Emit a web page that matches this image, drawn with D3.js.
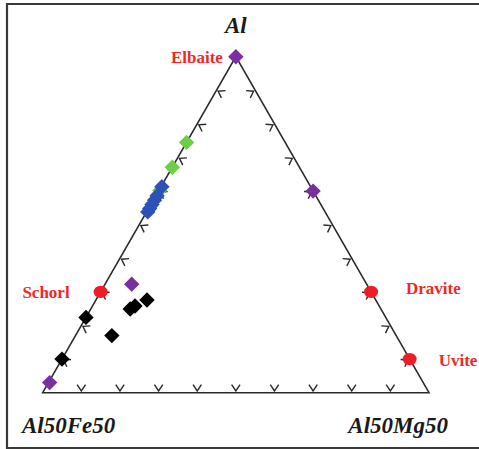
<!DOCTYPE html>
<html>
<head>
<meta charset="utf-8">
<script src="https://cdn.jsdelivr.net/npm/d3@7"></script>
<style>
  html, body { margin: 0; padding: 0; background: #fff; }
  svg { display: block; }
</style>
</head>
<body>
<svg id="chart" width="479" height="449"></svg>
<script>
// ternary data: Al (top), Fe = Al50Fe50 (bottom left), Mg = Al50Mg50 (bottom right)
const vertexLabels = ['Al', 'Al50Fe50', 'Al50Mg50'];
const tickFractions = [0.1, 0.2, 0.3, 0.4, 0.5, 0.6, 0.7, 0.8, 0.9];

// end members (red circles + labels)
const endMembers = [
  { name: 'Schorl', al: 0.30, fe: 0.70, mg: 0.00 },
  { name: 'Dravite', al: 0.30, fe: 0.00, mg: 0.70 },
  { name: 'Uvite', al: 0.10, fe: 0.00, mg: 0.90 }
];
const elbaiteLabel = { name: 'Elbaite', al: 1.0, fe: 0.0, mg: 0.0 };

const purplePoints = [
  { al: 1.000, fe: 0.000, mg: 0.000 },
  { al: 0.600, fe: 0.000, mg: 0.400 },
  { al: 0.323, fe: 0.608, mg: 0.069 },
  { al: 0.030, fe: 0.967, mg: 0.003 }
];
const greenPoints = [
  { al: 0.745, fe: 0.255, mg: 0.000 },
  { al: 0.671, fe: 0.329, mg: 0.000 },
  { al: 0.602, fe: 0.396, mg: 0.002 }
];
const bluePoints = [
  { al: 0.613, fe: 0.385, mg: 0.002 },
  { al: 0.586, fe: 0.411, mg: 0.003 },
  { al: 0.573, fe: 0.424, mg: 0.003 },
  { al: 0.560, fe: 0.437, mg: 0.003 },
  { al: 0.548, fe: 0.449, mg: 0.003 },
  { al: 0.538, fe: 0.459, mg: 0.003 }
];
const blackPoints = [
  { al: 0.224, fe: 0.776, mg: 0.000 },
  { al: 0.100, fe: 0.900, mg: 0.000 },
  { al: 0.170, fe: 0.736, mg: 0.094 },
  { al: 0.249, fe: 0.649, mg: 0.102 },
  { al: 0.258, fe: 0.632, mg: 0.110 },
  { al: 0.276, fe: 0.592, mg: 0.132 }
];

const svg = d3.select('#chart');

// x runs along base (mg + al/2), y is the Al fraction
const x = d3.scaleLinear().domain([0, 1]).range([42.7, 429]);
const y = d3.scaleLinear().domain([0, 1]).range([392.7, 56.7]);

function project(d) {
  const s = d.al + d.fe + d.mg;
  const al = d.al / s, mg = d.mg / s;
  return [x(mg + al / 2), y(al)];
}

// frame
svg.append('path')
  .attr('d', 'M485,4 H7 V448 H485')
  .attr('fill', 'none')
  .attr('stroke', '#3a3a3a')
  .attr('stroke-width', 2.2);

const apex = project({ al: 1, fe: 0, mg: 0 });
const cornerL = project({ al: 0, fe: 1, mg: 0 });
const cornerR = project({ al: 0, fe: 0, mg: 1 });

svg.append('path')
  .attr('d', `M${cornerL}L${apex}L${cornerR}Z`)
  .attr('fill', 'none')
  .attr('stroke', '#2a2a2a')
  .attr('stroke-width', 1.6);

// chevron ticks, vertex on the edge, arms pointing inside
const centroid = [(apex[0] + cornerL[0] + cornerR[0]) / 3, (apex[1] + cornerL[1] + cornerR[1]) / 3];
const edges = [[cornerL, cornerR], [cornerL, apex], [apex, cornerR]];
const armLen = 7.5, halfAngle = 34 * Math.PI / 180;
const tickPaths = [];
edges.forEach(([p0, p1]) => {
  const dx = p1[0] - p0[0], dy = p1[1] - p0[1];
  const len = Math.hypot(dx, dy);
  let nx = -dy / len, ny = dx / len;
  const mx = (p0[0] + p1[0]) / 2, my = (p0[1] + p1[1]) / 2;
  if ((centroid[0] - mx) * nx + (centroid[1] - my) * ny < 0) { nx = -nx; ny = -ny; }
  const ang = Math.atan2(ny, nx);
  tickFractions.forEach(t => {
    const vx = p0[0] + dx * t + nx * 1.8, vy = p0[1] + dy * t + ny * 1.8;
    const a1 = ang - halfAngle, a2 = ang + halfAngle;
    tickPaths.push(`M${vx + armLen * Math.cos(a1)},${vy + armLen * Math.sin(a1)}L${vx},${vy}L${vx + armLen * Math.cos(a2)},${vy + armLen * Math.sin(a2)}`);
  });
});
svg.append('g').selectAll('path')
  .data(tickPaths)
  .enter().append('path')
  .attr('d', d => d)
  .attr('fill', 'none')
  .attr('stroke', '#2a2a2a')
  .attr('stroke-width', 1.4);

// vertex labels
const axisFont = '"Liberation Serif", "Times New Roman", serif';
const vertexText = svg.append('g')
  .attr('font-family', axisFont)
  .attr('font-weight', 'bold')
  .attr('font-style', 'italic')
  .attr('font-size', 23)
  .attr('fill', '#1a1a1a');
vertexText.append('text').text(vertexLabels[0])
  .attr('x', apex[0]).attr('y', 33)
  .attr('text-anchor', 'middle');
vertexText.append('text').text(vertexLabels[1])
  .attr('x', 22).attr('y', 433);
vertexText.append('text').text(vertexLabels[2])
  .attr('x', 448).attr('y', 433)
  .attr('text-anchor', 'end');

// markers
const diamond = d3.symbol().type(d3.symbolSquare).size(118);
function drawDiamonds(data, color) {
  svg.append('g').selectAll('path')
    .data(data)
    .enter().append('path')
    .attr('d', diamond)
    .attr('transform', d => `translate(${project(d)}) rotate(45)`)
    .attr('fill', color);
}
drawDiamonds(greenPoints, '#6ccf45');
drawDiamonds(bluePoints, '#2c52b8');
drawDiamonds(blackPoints, '#000');
drawDiamonds(purplePoints, '#7a2fa0');

svg.append('g').selectAll('ellipse')
  .data(endMembers)
  .enter().append('ellipse')
  .attr('cx', d => project(d)[0])
  .attr('cy', d => project(d)[1])
  .attr('rx', 7)
  .attr('ry', 6.2)
  .attr('fill', '#ee1c24');

// end member labels
const labelPos = {
  Elbaite: { dx: -13, dy: 6, anchor: 'end' },
  Schorl: { dx: -31, dy: 6, anchor: 'end' },
  Dravite: { dx: 35, dy: 2, anchor: 'start' },
  Uvite: { dx: 29, dy: 7, anchor: 'start' }
};
svg.append('g').selectAll('text')
  .data(endMembers.concat([elbaiteLabel]))
  .enter().append('text')
  .attr('x', d => project(d)[0] + labelPos[d.name].dx)
  .attr('y', d => project(d)[1] + labelPos[d.name].dy)
  .attr('text-anchor', d => labelPos[d.name].anchor)
  .attr('font-family', axisFont)
  .attr('font-weight', 'bold')
  .attr('font-size', 17)
  .attr('fill', '#ee2a24')
  .text(d => d.name);
</script>
</body>
</html>
